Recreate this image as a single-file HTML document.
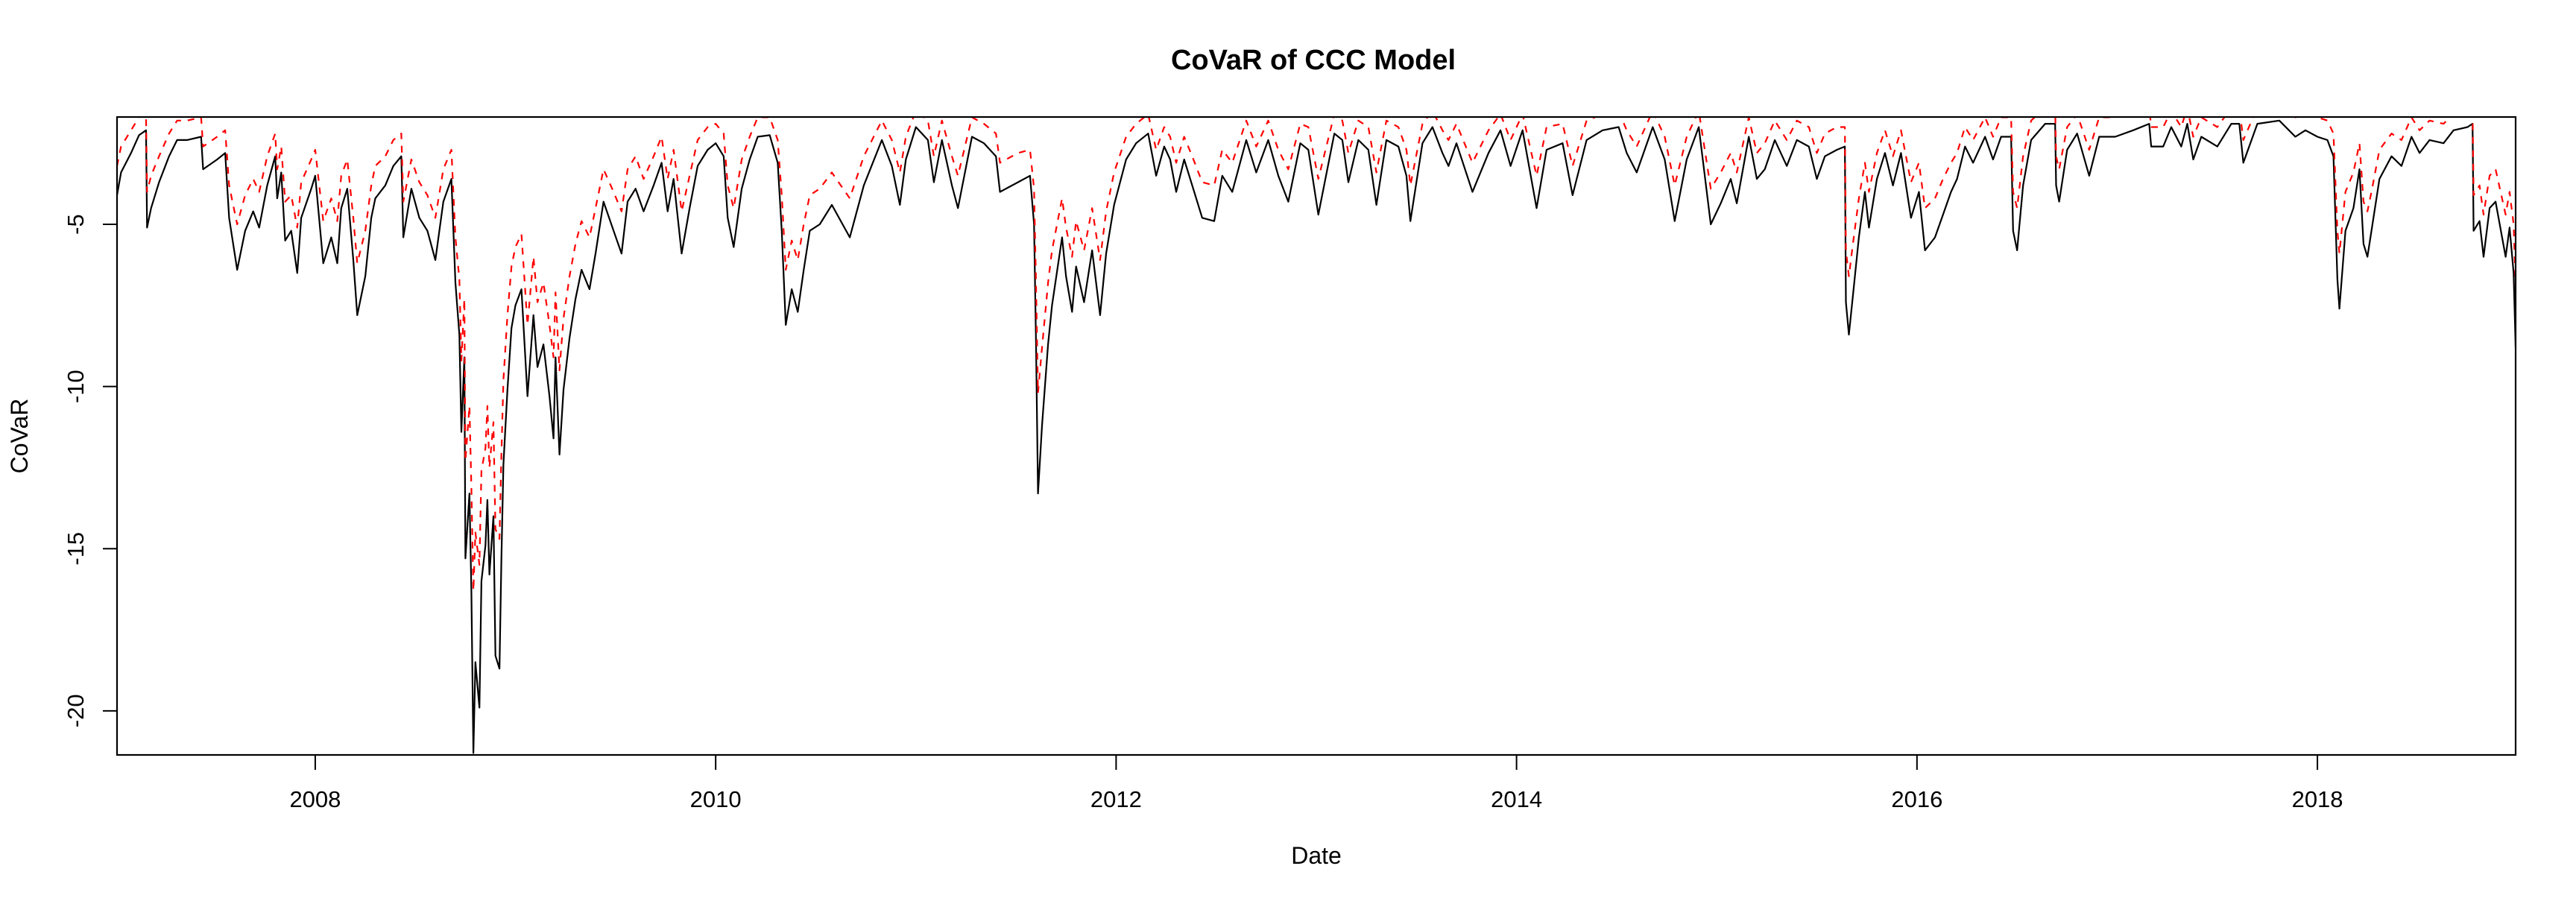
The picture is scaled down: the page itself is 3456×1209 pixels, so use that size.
<!DOCTYPE html>
<html><head><meta charset="utf-8"><style>
html,body{margin:0;padding:0;background:#fff;}
svg{display:block;font-family:"Liberation Sans",Arial,sans-serif;}
</style></head><body>
<svg id="chart" width="3456" height="1209" viewBox="0 0 3456 1209">
<defs><clipPath id="plotclip"><rect x="157" y="157" width="3218" height="856"/></clipPath></defs>
<rect x="0" y="0" width="3456" height="1209" fill="#fff"/>
<text x="1762" y="93" text-anchor="middle" font-size="38" font-weight="bold">CoVaR of CCC Model</text>
<text x="1766" y="1159" text-anchor="middle" font-size="32">Date</text>
<text transform="translate(37,585) rotate(-90)" text-anchor="middle" font-size="32">CoVaR</text>
<g id="series" clip-path="url(#plotclip)"></g>
<g id="axes"></g>
<rect x="157" y="157" width="3218" height="856" fill="none" stroke="#000" stroke-width="2.2"/>
</svg>
<script>
const dates = [2007.01,2007.03,2007.08,2007.12,2007.155,2007.16,2007.18,2007.22,2007.27,2007.31,2007.36,2007.43,2007.44,2007.51,2007.55,2007.57,2007.61,2007.65,2007.69,2007.72,2007.76,2007.8,2007.81,2007.83,2007.85,2007.88,2007.91,2007.93,2007.98,2008.0,2008.04,2008.08,2008.11,2008.13,2008.16,2008.19,2008.21,2008.25,2008.28,2008.3,2008.35,2008.39,2008.43,2008.44,2008.48,2008.52,2008.56,2008.6,2008.64,2008.68,2008.7,2008.72,2008.73,2008.745,2008.75,2008.77,2008.78,2008.79,2008.8,2008.82,2008.83,2008.85,2008.86,2008.87,2008.89,2008.9,2008.92,2008.93,2008.94,2008.96,2008.98,2009.0,2009.03,2009.06,2009.09,2009.11,2009.14,2009.17,2009.19,2009.2,2009.22,2009.24,2009.27,2009.3,2009.33,2009.37,2009.4,2009.44,2009.49,2009.53,2009.56,2009.6,2009.64,2009.69,2009.73,2009.76,2009.79,2009.83,2009.87,2009.91,2009.96,2010.0,2010.04,2010.06,2010.09,2010.13,2010.17,2010.21,2010.27,2010.31,2010.33,2010.35,2010.38,2010.41,2010.44,2010.47,2010.52,2010.58,2010.67,2010.74,2010.83,2010.88,2010.92,2010.95,2011.0,2011.06,2011.09,2011.13,2011.18,2011.21,2011.28,2011.34,2011.4,2011.42,2011.51,2011.57,2011.59,2011.6,2011.61,2011.63,2011.66,2011.68,2011.73,2011.75,2011.78,2011.8,2011.84,2011.88,2011.92,2011.95,2011.99,2012.05,2012.1,2012.16,2012.2,2012.24,2012.27,2012.3,2012.34,2012.38,2012.43,2012.49,2012.53,2012.58,2012.65,2012.7,2012.76,2012.81,2012.86,2012.92,2012.96,2013.01,2013.09,2013.13,2013.16,2013.21,2013.26,2013.3,2013.35,2013.41,2013.45,2013.47,2013.53,2013.58,2013.63,2013.66,2013.7,2013.78,2013.86,2013.92,2013.97,2014.03,2014.1,2014.15,2014.23,2014.28,2014.35,2014.43,2014.51,2014.55,2014.6,2014.68,2014.74,2014.79,2014.85,2014.91,2014.97,2015.02,2015.07,2015.1,2015.16,2015.2,2015.24,2015.29,2015.35,2015.4,2015.46,2015.5,2015.54,2015.6,2015.64,2015.645,2015.66,2015.68,2015.71,2015.74,2015.76,2015.8,2015.84,2015.88,2015.92,2015.97,2016.01,2016.04,2016.09,2016.13,2016.17,2016.2,2016.24,2016.28,2016.34,2016.38,2016.42,2016.47,2016.48,2016.5,2016.53,2016.57,2016.64,2016.69,2016.695,2016.71,2016.75,2016.8,2016.86,2016.91,2016.99,2017.08,2017.16,2017.17,2017.23,2017.27,2017.32,2017.35,2017.38,2017.42,2017.5,2017.57,2017.61,2017.63,2017.7,2017.81,2017.89,2017.94,2018.0,2018.05,2018.08,2018.1,2018.11,2018.14,2018.18,2018.21,2018.23,2018.25,2018.27,2018.31,2018.37,2018.42,2018.47,2018.51,2018.56,2018.63,2018.68,2018.75,2018.775,2018.78,2018.81,2018.83,2018.86,2018.89,2018.94,2018.96,2018.98,2018.99];
const covarBlack = [-4.1,-3.4,-2.8,-2.25,-2.1,-5.1,-4.5,-3.7,-2.9,-2.4,-2.4,-2.3,-3.3,-3.0,-2.8,-4.8,-6.4,-5.2,-4.6,-5.1,-3.8,-2.9,-4.2,-3.4,-5.5,-5.2,-6.5,-4.8,-3.9,-3.5,-6.2,-5.4,-6.2,-4.5,-3.9,-6.1,-7.8,-6.6,-4.8,-4.2,-3.8,-3.2,-2.9,-5.4,-3.9,-4.8,-5.2,-6.1,-4.3,-3.6,-6.8,-8.4,-11.4,-9.1,-15.3,-13.3,-16.3,-21.3,-18.5,-19.9,-16.0,-14.9,-13.5,-15.8,-14.0,-18.3,-18.7,-15.3,-12.4,-10.1,-8.2,-7.5,-7.0,-10.3,-7.8,-9.4,-8.7,-10.3,-11.6,-9.1,-12.1,-10.1,-8.5,-7.3,-6.4,-7.0,-5.9,-4.3,-5.2,-5.9,-4.3,-3.9,-4.6,-3.8,-3.1,-4.6,-3.6,-5.9,-4.5,-3.2,-2.7,-2.5,-2.9,-4.8,-5.7,-3.9,-3.0,-2.3,-2.25,-3.1,-5.2,-8.1,-7.0,-7.7,-6.4,-5.2,-5.0,-4.4,-5.4,-3.8,-2.4,-3.2,-4.4,-3.0,-2.0,-2.4,-3.7,-2.4,-3.8,-4.5,-2.3,-2.5,-2.9,-4.0,-3.7,-3.5,-5.0,-8.6,-13.3,-11.2,-8.7,-7.5,-5.4,-6.6,-7.7,-6.3,-7.4,-5.8,-7.8,-5.9,-4.4,-3.0,-2.5,-2.2,-3.5,-2.6,-3.0,-4.0,-3.0,-3.8,-4.8,-4.9,-3.5,-4.0,-2.4,-3.4,-2.4,-3.5,-4.3,-2.5,-2.7,-4.7,-2.2,-2.4,-3.7,-2.4,-2.7,-4.4,-2.4,-2.6,-3.5,-4.9,-2.5,-2.0,-2.8,-3.2,-2.5,-4.0,-2.8,-2.1,-3.2,-2.1,-4.5,-2.7,-2.5,-4.1,-2.4,-2.1,-2.0,-2.8,-3.4,-2.0,-3.0,-4.9,-3.0,-2.0,-5.0,-4.35,-3.6,-4.35,-2.3,-3.6,-3.3,-2.4,-3.2,-2.4,-2.6,-3.6,-2.9,-2.7,-2.6,-7.4,-8.4,-7.2,-5.4,-4.0,-5.1,-3.6,-2.8,-3.8,-2.8,-4.8,-4.0,-5.8,-5.4,-4.7,-4.0,-3.6,-2.6,-3.1,-2.3,-3.0,-2.3,-2.3,-5.2,-5.8,-3.8,-2.4,-1.9,-1.9,-3.8,-4.3,-2.7,-2.2,-3.5,-2.3,-2.3,-2.1,-1.9,-2.6,-2.6,-2.0,-2.6,-1.9,-3.0,-2.3,-2.6,-1.9,-1.9,-3.1,-1.9,-1.8,-2.3,-2.1,-2.3,-2.4,-2.9,-6.7,-7.6,-5.2,-4.5,-3.3,-5.6,-6.0,-5.2,-3.6,-2.9,-3.2,-2.3,-2.8,-2.4,-2.5,-2.1,-2.0,-1.9,-5.2,-4.9,-6.0,-4.5,-4.3,-6.0,-5.1,-6.5,-8.8];
const covarRed = [-3.2,-2.6,-2.1,-1.7,-1.6,-4.0,-3.5,-2.9,-2.2,-1.8,-1.8,-1.7,-2.6,-2.3,-2.1,-3.8,-5.0,-4.1,-3.6,-4.0,-2.9,-2.2,-3.3,-2.6,-4.3,-4.1,-5.1,-3.7,-3.0,-2.7,-4.9,-4.2,-4.9,-3.5,-3.0,-4.8,-6.2,-5.2,-3.8,-3.2,-2.9,-2.4,-2.2,-4.3,-3.0,-3.7,-4.1,-4.8,-3.3,-2.7,-5.4,-6.7,-9.2,-7.3,-12.3,-10.6,-13.1,-16.3,-14.5,-15.5,-12.6,-11.9,-10.6,-12.5,-11.1,-14.4,-14.7,-12.1,-9.8,-7.8,-6.3,-5.7,-5.3,-8.1,-6.0,-7.4,-6.8,-8.1,-9.1,-7.1,-9.5,-7.9,-6.6,-5.6,-4.9,-5.4,-4.5,-3.3,-4.0,-4.6,-3.3,-2.9,-3.6,-2.9,-2.3,-3.6,-2.7,-4.6,-3.5,-2.4,-2.0,-1.9,-2.2,-3.8,-4.5,-3.0,-2.3,-1.7,-1.7,-2.4,-4.1,-6.4,-5.5,-6.1,-5.0,-4.1,-3.9,-3.4,-4.2,-2.9,-1.8,-2.4,-3.4,-2.3,-1.5,-1.8,-2.9,-1.8,-2.9,-3.5,-1.7,-1.9,-2.2,-3.1,-2.8,-2.7,-3.9,-6.8,-10.2,-8.8,-6.8,-5.8,-4.2,-5.1,-6.0,-4.9,-5.8,-4.5,-6.1,-4.6,-3.4,-2.3,-1.9,-1.6,-2.7,-2.0,-2.3,-3.1,-2.3,-2.9,-3.7,-3.8,-2.7,-3.1,-1.8,-2.6,-1.8,-2.7,-3.3,-1.9,-2.0,-3.6,-1.6,-1.8,-2.8,-1.8,-2.0,-3.4,-1.8,-2.0,-2.7,-3.8,-1.9,-1.5,-2.1,-2.4,-1.9,-3.1,-2.1,-1.6,-2.4,-1.6,-3.5,-2.0,-1.9,-3.2,-1.8,-1.6,-1.5,-2.1,-2.6,-1.5,-2.3,-3.8,-2.3,-1.5,-3.9,-3.4,-2.8,-3.4,-1.7,-2.8,-2.5,-1.8,-2.4,-1.8,-2.0,-2.8,-2.2,-2.0,-2.0,-5.8,-6.6,-5.6,-4.2,-3.1,-4.0,-2.8,-2.1,-2.9,-2.1,-3.7,-3.1,-4.5,-4.2,-3.6,-3.1,-2.8,-2.0,-2.4,-1.7,-2.3,-1.7,-1.7,-4.0,-4.5,-2.9,-1.8,-1.4,-1.4,-2.9,-3.3,-2.0,-1.6,-2.7,-1.7,-1.7,-1.6,-1.4,-2.0,-2.0,-1.5,-2.0,-1.4,-2.3,-1.7,-2.0,-1.4,-1.4,-2.4,-1.4,-1.3,-1.7,-1.6,-1.7,-1.8,-2.2,-5.2,-5.9,-4.0,-3.4,-2.5,-4.3,-4.6,-4.0,-2.7,-2.2,-2.4,-1.7,-2.1,-1.8,-1.9,-1.6,-1.5,-1.4,-4.1,-3.8,-4.7,-3.5,-3.3,-4.7,-4.0,-5.0,-6.9];
const xTicks = [2008,2010,2012,2014,2016,2018];
const yTicks = [-5,-10,-15,-20];

const L=157,R=3375,T=157,B=1013;
const X0=2007.01,X1=2018.99,Y0=-21.36,Y1=-1.69;
function xs(v){return L+(v-X0)/(X1-X0)*(R-L);}
function ys(v){return T+(Y1-v)/(Y1-Y0)*(B-T);}
const NS='http://www.w3.org/2000/svg';
const series=document.getElementById('series');
function drawLine(vals,color,dash,name){
  const p=document.createElementNS(NS,'path');
  let d='';
  for(let i=0;i<dates.length;i++){d+=(i?'L':'M')+xs(dates[i]).toFixed(1)+','+ys(vals[i]).toFixed(1);}
  p.setAttribute('d',d);p.setAttribute('fill','none');p.setAttribute('stroke',color);
  p.setAttribute('stroke-width','2.2');p.setAttribute('stroke-linejoin','round');
  if(dash)p.setAttribute('stroke-dasharray',dash);
  
  
  series.appendChild(p);
}
drawLine(covarBlack,'#000',null,'covar-line');
drawLine(covarRed,'#ff0000','9 9','covar-red-dashed-line');
const axes=document.getElementById('axes');
xTicks.forEach(t=>{
  const x=xs(t);
  const l=document.createElementNS(NS,'line');
  l.setAttribute('x1',x);l.setAttribute('x2',x);l.setAttribute('y1',B);l.setAttribute('y2',B+20);
  l.setAttribute('stroke','#000');l.setAttribute('stroke-width','2');
  
  
  axes.appendChild(l);
  const tx=document.createElementNS(NS,'text');
  tx.setAttribute('x',x);tx.setAttribute('y',1083);tx.setAttribute('text-anchor','middle');tx.setAttribute('font-size','31');
  tx.textContent=t;
  
  
  axes.appendChild(tx);
});
yTicks.forEach(t=>{
  const y=ys(t);
  const l=document.createElementNS(NS,'line');
  l.setAttribute('x1',L-19);l.setAttribute('x2',L);l.setAttribute('y1',y);l.setAttribute('y2',y);
  l.setAttribute('stroke','#000');l.setAttribute('stroke-width','2');
  
  
  axes.appendChild(l);
  const tx=document.createElementNS(NS,'text');
  tx.setAttribute('transform','translate(112,'+y+') rotate(-90)');tx.setAttribute('text-anchor','middle');tx.setAttribute('font-size','31');
  tx.textContent=t;
  
  
  axes.appendChild(tx);
});
</script>
</body></html>
